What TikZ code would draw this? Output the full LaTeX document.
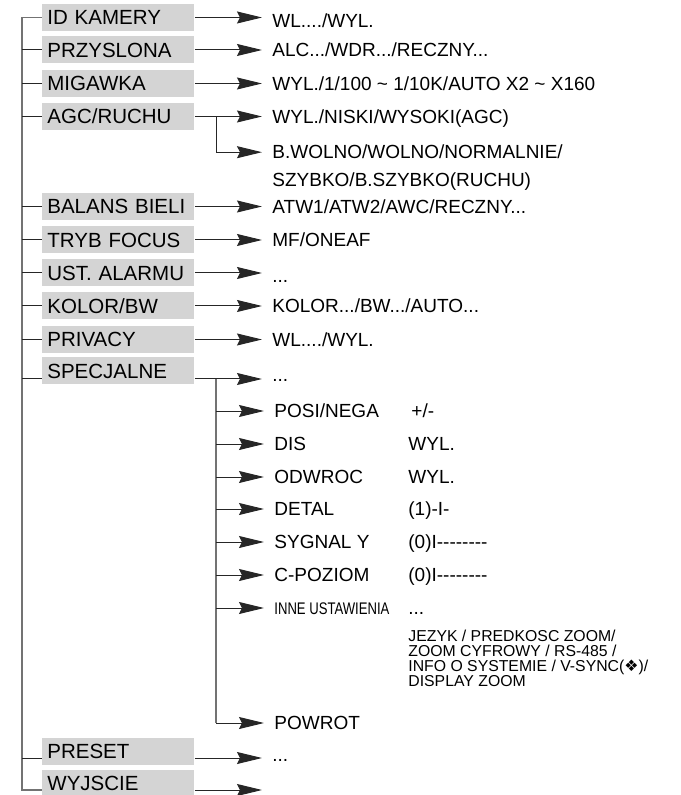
\documentclass[tikz,border=0pt]{standalone}
\usepackage{fontspec}
\newfontfamily\lsans{Liberation Sans}
\newfontfamily\lnarrow[FakeStretch=0.78]{Liberation Sans}
\newfontfamily\dvsans{DejaVu Sans}
\usetikzlibrary{arrows.meta}
\definecolor{boxgray}{RGB}{212,212,212}
\tikzset{
  >={Stealth[length=12.5pt,width=6pt,inset=1.5pt]},
  m/.style={fill=boxgray,anchor=west,font=\lsans\fontsize{10.25}{12}\selectfont,text width=71pt,align=left,
    inner xsep=2.5pt,inner ysep=0pt,text height=7.3pt,text depth=0pt,minimum height=13.5pt},
  t/.style={anchor=west,font=\lsans\fontsize{9.5}{14}\selectfont,inner xsep=5pt,inner ysep=0pt,text height=6.8pt,text depth=0pt},
  t2/.style={t,inner xsep=0pt},
  tm/.style={anchor=base west,font=\lsans\fontsize{9.5}{14}\selectfont,inner xsep=5pt,inner ysep=0pt,align=left},
  tj/.style={anchor=base west,font=\lsans\fontsize{7.9}{7.5}\selectfont,inner sep=0pt,align=left},
  ln/.style={draw=black!85,line width=0.5pt},
  tr/.style={draw=black!55,line width=0.8pt},
}
\begin{document}
\begin{tikzpicture}[x=0.5pt,y=-0.5pt]
\useasboundingbox (0,0) rectangle (680,795);
\clip (0,0) rectangle (680,795);
\node[m] (idk) at (42,17.5){ID KAMERY}; \node[m] (prz) at (42,50){PRZYSLONA};
\node[m] (mig) at (42,83.5){MIGAWKA}; \node[m] (agc) at (42,116.5){AGC/RUCHU};
\node[m] (bal) at (42,206.5){BALANS BIELI}; \node[m] (tryb) at (42,240){TRYB FOCUS};
\node[m] (ust) at (42,273){UST. ALARMU}; \node[m] (kol) at (42,306){KOLOR/BW};
\node[m] (priv) at (42,339.5){PRIVACY}; \node[m] (spec) at (42,371){SPECJALNE};
\node[m] (pres) at (42,751){PRESET}; \node[m] (wyj) at (42,783){WYJSCIE};
\node[t] (vidk) at (262,21){WL..../WYL.};
\node[t] (vprz) at (262,50){ALC.../WDR.../RECZNY...};
\node[t] (vmig) at (262,83.5){WYL./1/100 \textasciitilde{} 1/10K/AUTO X2 \textasciitilde{} X160};
\node[t] (vagc) at (262,116.5){WYL./NISKI/WYSOKI(AGC)};
\node[tm] (vbw) at (262,187){B.WOLNO/WOLNO/NORMALNIE/\\SZYBKO/B.SZYBKO(RUCHU)};
\node[t] (vbal) at (262,206.5){ATW1/ATW2/AWC/RECZNY...};
\node[t] (vtryb) at (262,240){MF/ONEAF};
\node[t] (vust) at (262,276){...};
\node[t] (vkol) at (262,306){KOLOR.../BW.../AUTO...};
\node[t] (vpriv) at (262,339.5){WL..../WYL.};
\node[t] (vspec) at (262,375){...};
\node[t] (vpres) at (262,755){...};
\coordinate (vwyj) at (262,790);
\node[t] (posi) at (264,411){POSI/NEGA}; \node[t2] (posiv) at (411,411){+/-};
\node[t] (dis) at (264,444){DIS}; \node[t2] (disv) at (408,444){WYL.};
\node[t] (odw) at (264,477){ODWROC}; \node[t2] (odwv) at (408,477){WYL.};
\node[t] (det) at (264,509){DETAL}; \node[t2] (detv) at (408,509){(1)-I-};
\node[t] (syg) at (264,542){SYGNAL Y}; \node[t2] (sygv) at (408,542){(0)I--------};
\node[t] (cpoz) at (264,575){C-POZIOM}; \node[t2] (cpozv) at (408,575){(0)I--------};
\node[t,font=\lnarrow\fontsize{8.4}{10}\selectfont,text height=6pt] (inne) at (264,608){INNE USTAWIENIA};
\node[t2] (innev) at (408,608){...};
\node[tj] (jez) at (408,686.5){JEZYK / PREDKOSC ZOOM/\\ZOOM CYFROWY / RS-485 /\\INFO O SYSTEMIE / V-SYNC({\dvsans ❖})/\\DISPLAY ZOOM};
\node[t] (powr) at (264,723){POWROT};
\coordinate (tt) at (22,17.5); \coordinate (tb) at (22,790);
\coordinate (sj) at ([yshift=-4pt]spec.west); \coordinate (sk) at ([yshift=-4pt]spec.east);
\coordinate (pj) at ([yshift=-3.5pt]pres.west); \coordinate (pk) at ([yshift=-3.5pt]pres.east);
\coordinate (wj) at ([yshift=-3.5pt]wyj.west); \coordinate (wk) at ([yshift=-3.5pt]wyj.east);
\draw[tr] (idk.west) -- (tt) -- (tb) -- (wj);
\foreach \b in {prz,mig,agc,bal,tryb,ust,kol,priv} \draw[ln] (\b.west -| tt) -- (\b.west);
\draw[ln] (sj -| tt) -- (sj); \draw[ln] (pj -| tt) -- (pj);
\foreach \b in {idk,prz,mig,agc,bal,tryb,ust,kol,priv} \draw[ln,->] (\b.east) -- (\b.east -| v\b.west);
\draw[ln,->] (sk) -- (sk -| vspec.west); \draw[ln,->] (pk) -- (pk -| vpres.west);
\draw[ln,->] (wk) -- (vwyj);
\coordinate (ab) at (216,116.5);
\draw[ln,->] (ab) |- ([yshift=17.4pt]vbw.base west);
\coordinate (sb) at (216,379);
\draw[tr] (sb) -- (sb |- powr.west);
\foreach \s in {posi,dis,odw,det,syg,cpoz,inne,powr} \draw[ln,->] (sb |- \s.west) -- (\s.west);
\end{tikzpicture}
\end{document}
